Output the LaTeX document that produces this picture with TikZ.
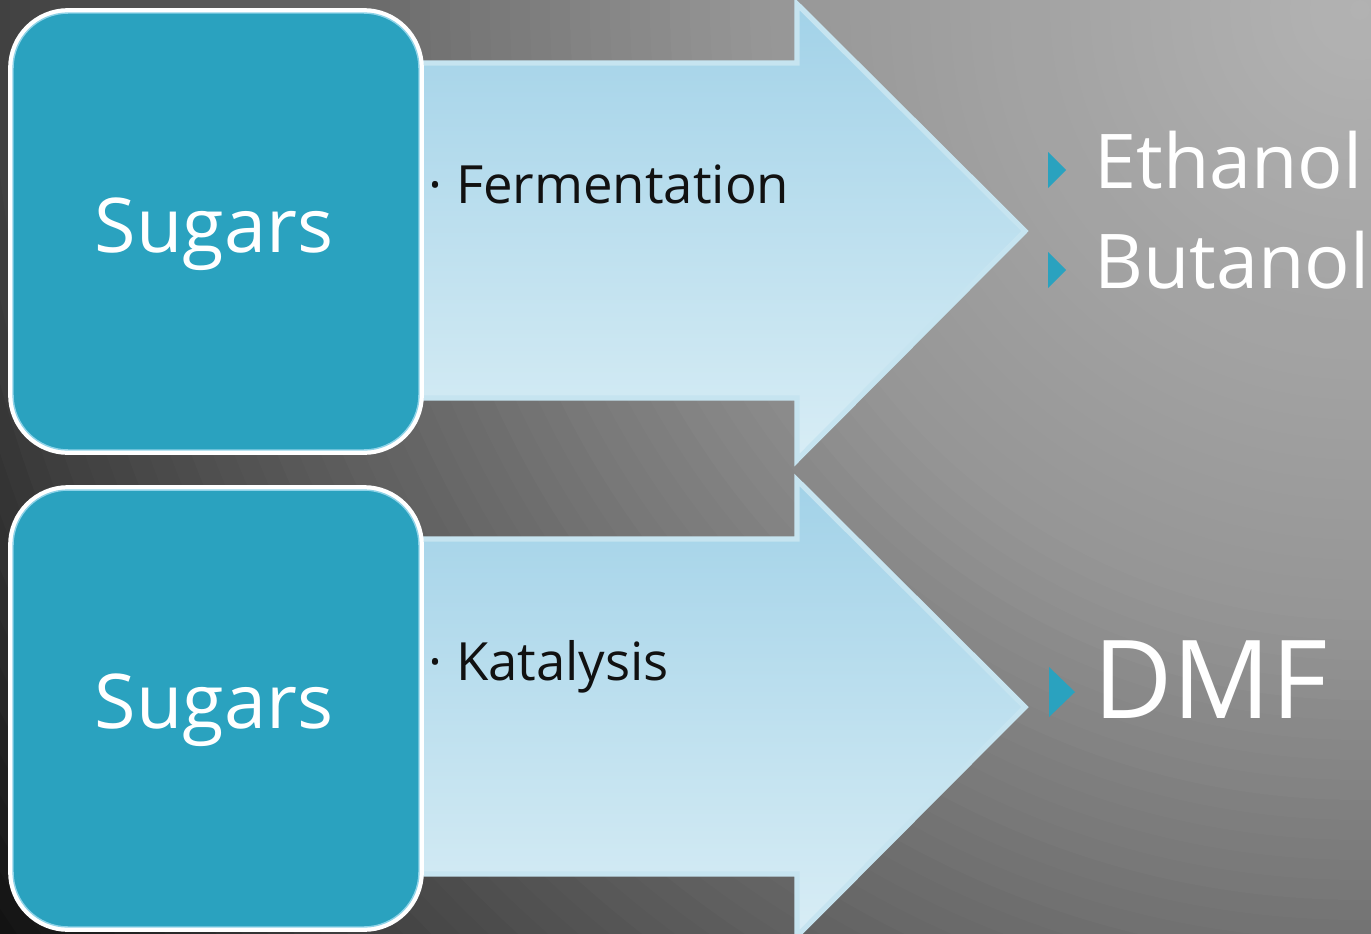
\documentclass[tikz,border=0pt]{standalone}
\usepackage{fontspec}
\setmainfont{Open Sans}
\definecolor{tealbox}{HTML}{2AA2BF}
\definecolor{boxline}{HTML}{8FD3E8}
\definecolor{arrtop}{HTML}{A2D2E8}
\definecolor{arrbot}{HTML}{D8EDF5}
\definecolor{arredge}{HTML}{C6E4F0}
\definecolor{darktext}{HTML}{111111}
\tikzset{
  sugarbox/.style={rectangle, rounded corners=1.1cm, minimum width=8.12cm, minimum height=8.74cm,
    fill=tealbox, draw=boxline, line width=0.8pt, preaction={draw=white, line width=5.6pt}, inner sep=0pt},
  sugartext/.style={anchor=base, text=white, font=\fontsize{43}{43}\selectfont, inner sep=0pt},
  proctext/.style={anchor=base west, text=darktext, font=\fontsize{30}{30}\selectfont, inner sep=0pt},
  prodtext/.style={anchor=base west, text=white, font=\fontsize{43}{43}\selectfont, inner sep=0pt},
  bigprod/.style={anchor=base west, text=white, font=\fontsize{62}{62}\selectfont, inner sep=0pt},
  bigarrow/.style={top color=arrtop, bottom color=arrbot, draw=arredge, line width=3pt},
  tri/.style={fill=tealbox}
}
\begin{document}
\begin{tikzpicture}[x=0.02cm,y=-0.02cm]
\useasboundingbox (0,0) rectangle (1371,933);
\begin{scope}
\clip (0,0) rectangle (1371,933);
\fill[black!94] (0,0) rectangle (1371,933);
\foreach \r in {1700,1680,...,0}{
  \pgfmathsetmacro{\g}{\r<600 ? 0.70-0.11*\r/600 : (\r<900 ? 0.59-0.13*(\r-600)/300 : (\r<1370 ? 0.46-0.21*(\r-900)/470 : 0.25-0.19*min(\r-1370,290)/290))}
  \definecolor{bgtmp}{gray}{\g}
  \fill[bgtmp] (1360,10) circle (\r+10);
}
\end{scope}
% arrows
\shadedraw[bigarrow] (400,63) -- (797,63) -- (797,4) -- (1025,231) -- (797,460) -- (797,398) -- (400,398) -- cycle;
\shadedraw[bigarrow] (400,539) -- (797,539) -- (797,480) -- (1025,707) -- (797,936) -- (797,874) -- (400,874) -- cycle;
% boxes
\node[sugarbox] (boxA) at (216,231.5) {};
\node[sugarbox] (boxB) at (216,708.5) {};
\node[sugartext] (sugarsA) at (214,252) {Sugars};
\node[sugartext] (sugarsB) at (214,728) {Sugars};
% process labels
\node[proctext] (ferm) at (428,203) {·\ Fermentation};
\node[proctext] (kat) at (428,680) {·\ Katalysis};
% products
\fill[tri] (1048,152) -- (1066,170) -- (1048,188) -- cycle;
\fill[tri] (1048,252) -- (1066,270) -- (1048,288) -- cycle;
\fill[tri] (1049,667) -- (1075,692) -- (1049,717) -- cycle;
\node[prodtext] (eth) at (1094,188) {Ethanol};
\node[prodtext] (but) at (1094,288) {Butanol};
\node[bigprod] (dmf) at (1093,718) {DMF};
\end{tikzpicture}
\end{document}
